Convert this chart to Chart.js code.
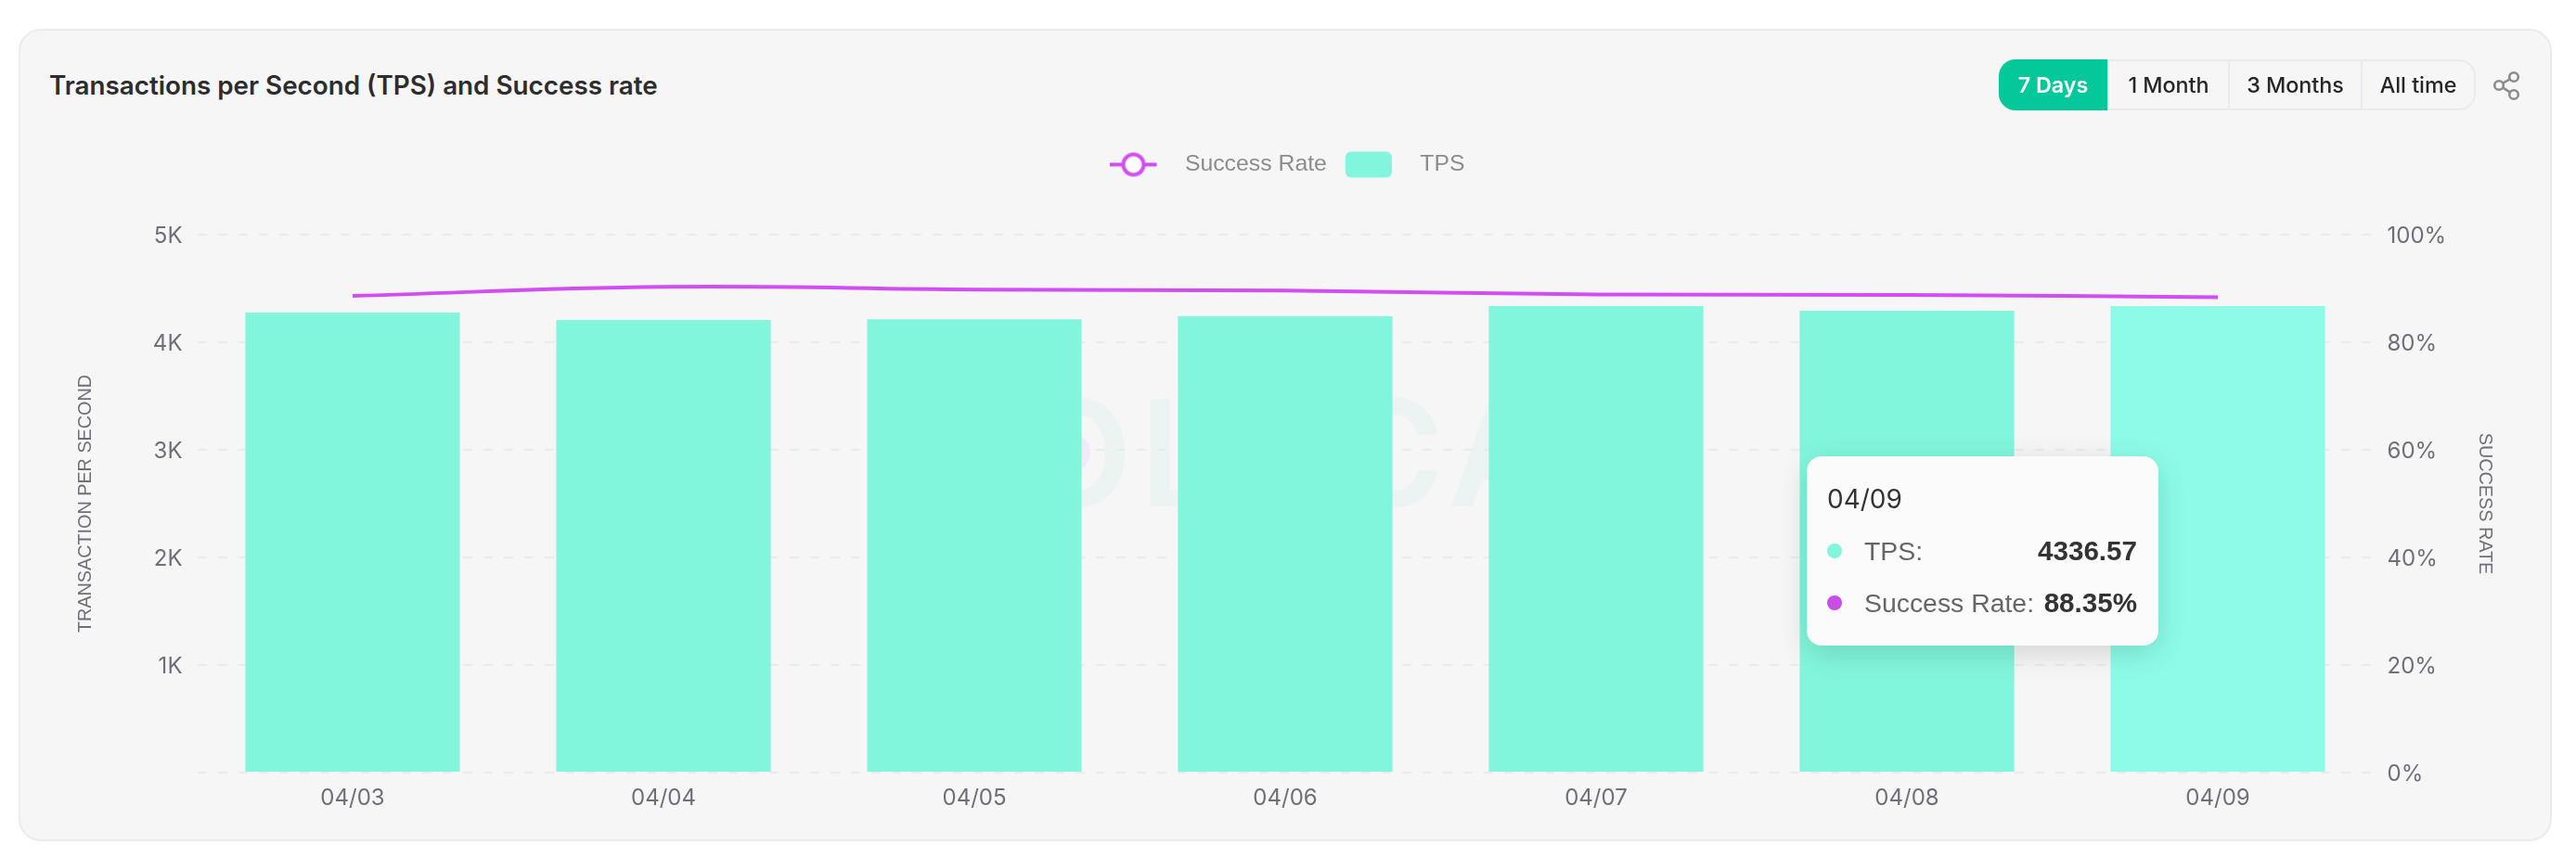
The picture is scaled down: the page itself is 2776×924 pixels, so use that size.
<!DOCTYPE html>
<html>
<head>
<meta charset="utf-8">
<title>Transactions per Second (TPS) and Success rate</title>
<script src="https://cdn.jsdelivr.net/npm/chart.js@4/dist/chart.umd.js"></script>
<style>
  html, body { margin: 0; padding: 0; background: #fff; }
  body { width: 2776px; height: 924px; position: relative; overflow: hidden; font-family: Inter, sans-serif; }
  .card { position: absolute; left: 20px; top: 31px; width: 2726px; height: 872px; background: #f6f6f6; border: 2px solid #ebebef; border-radius: 24px; }
  .title { position: absolute; left: 53px; top: 72px; line-height: 40px; font-size: 27.8px; font-weight: 600; color: #2d2d2d; white-space: nowrap; }
  .watermark { position: absolute; left: 985px; top: 393px; line-height: 190px; font-size: 160px; font-weight: 600; color: #ebf4f2; white-space: nowrap; letter-spacing: 8px; }
  .dot { position: absolute; left: 1135px; top: 468px; width: 40px; height: 40px; border-radius: 50%; background: #f3e8f5; }
  canvas { position: absolute; left: 0; top: 0; }
  .range { position: absolute; left: 2154px; top: 64px; height: 55px; width: 514px; box-sizing: border-box; display: flex; border: 2px solid #ebebef; border-radius: 18px; }
  .range div { display: flex; align-items: center; justify-content: center; box-sizing: border-box; font-size: 23.3px; font-weight: 500; color: #262626; border-left: 2px solid #ebebef; }
  .range div:first-child { border-left: 0; background: #04c79a; color: #fff; font-weight: 600; margin: -2px 0 -2px -2px; border-radius: 18px 0 0 18px; }
  .share { position: absolute; left: 2685px; top: 74px; }
  #tip { position: absolute; left: 1947px; top: 492px; width: 379px; height: 204px; box-sizing: border-box; background: #fbfbfb; border-radius: 16px; box-shadow: 0 8px 32px rgba(0,0,0,.14); color: #333; }
  #tip .head { position: absolute; left: 22px; top: 28px; line-height: 36px; font-size: 28px; font-family: Inter, sans-serif; }
  #tip .row { position: absolute; left: 22px; right: 23px; height: 36px; line-height: 36px; font-family: "Liberation Sans", sans-serif; font-size: 28.4px; }
  #tip .row i { position: absolute; left: 0; top: 10px; width: 16px; height: 16px; border-radius: 50%; }
  #tip .row span { position: absolute; left: 40px; color: #666; }
  #tip .row b { position: absolute; right: 0; color: #333; font-size: 29.6px; }
</style>
</head>
<body>
<div class="card"></div>
<div class="title">Transactions per Second (TPS) and Success rate</div>
<div class="watermark">SOLSCAN</div>
<div class="dot"></div>
<canvas id="tpsChart" width="2776" height="924"></canvas>
<div class="range">
  <div style="width:117px">7 Days</div>
  <div style="width:130px">1 Month</div>
  <div style="width:143px">3 Months</div>
  <div style="width:122px">All time</div>
</div>
<svg class="share" width="34" height="36" viewBox="0 0 34 36" fill="none" stroke="#8c8c8c" stroke-width="2.6">
  <circle cx="24" cy="9" r="4.8"/><circle cx="8" cy="18" r="4.8"/><circle cx="24" cy="28" r="4.8"/>
  <path d="M12.2 15.6 19.8 11.4M12.2 20.6 19.8 25.4"/>
</svg>
<div id="tip"></div>
<script>
// values
const dates = ['04/03', '04/04', '04/05', '04/06', '04/07', '04/08', '04/09'];
const tpsValues = [4276, 4207, 4213, 4241, 4336, 4293, 4336.57];
const successRates = [88.6, 90.3, 89.8, 89.6, 88.9, 88.8, 88.35];
const tpsTickLabels = ['', '1K', '2K', '3K', '4K', '5K'];
const rateTickLabels = ['0%', '20%', '40%', '60%', '80%', '100%'];

const BAR_COLOR = '#82f6dc';
const BAR_HOVER = '#8dfbe8';
const LINE_COLOR = '#d24df2';
const TICK_COLOR = '#6f6f7a';

// legend icons, drawn wider than the mark so the text sits where it should
function lineIcon() {
    const c = document.createElement('canvas');
    c.width = 68; c.height = 32;
    const g = c.getContext('2d');
    g.strokeStyle = LINE_COLOR;
    g.lineWidth = 4;
    g.beginPath(); g.moveTo(0, 16); g.lineTo(50, 16); g.stroke();
    g.fillStyle = '#fff';
    g.beginPath(); g.arc(25, 16, 11, 0, Math.PI * 2); g.fill(); g.stroke();
    return c;
}
function rectIcon() {
    const c = document.createElement('canvas');
    c.width = 68; c.height = 32;
    const g = c.getContext('2d');
    g.fillStyle = BAR_COLOR;
    g.beginPath(); g.roundRect(0, 2, 50, 28, 6); g.fill();
    return c;
}

// keeps the gap under the legend, the plot starts well below it
const legendGap = {
    id: 'legendGap',
    beforeInit(chart) {
        const fit = chart.legend.fit;
        chart.legend.fit = function () {
            fit.call(this);
            this.height = 108;
        };
    }
};

function renderTip(ctx) {
    const tip = document.getElementById('tip');
    const points = ctx.tooltip.dataPoints;
    if (!points || !points.length) return;
    const tps = points.find(p => p.dataset.label === 'TPS');
    const rate = points.find(p => p.dataset.label === 'Success Rate');
    tip.innerHTML =
        '<div class="head">' + tps.label + '</div>' +
        '<div class="row" style="top:84px"><i style="background:' + BAR_COLOR + '"></i><span>TPS:</span><b>' + tps.raw + '</b></div>' +
        '<div class="row" style="top:140px"><i style="background:#c94de6"></i><span>Success Rate:</span><b>' + rate.raw + '%</b></div>';
}

const chart = new Chart(document.getElementById('tpsChart'), {
    type: 'bar',
    data: {
        labels: dates,
        datasets: [
            {
                type: 'line',
                label: 'Success Rate',
                data: successRates,
                yAxisID: 'rate',
                borderColor: LINE_COLOR,
                backgroundColor: LINE_COLOR,
                borderWidth: 4,
                tension: 0.4,
                pointRadius: 0,
                pointHoverRadius: 0,
                order: 0
            },
            {
                label: 'TPS',
                data: tpsValues,
                yAxisID: 'tps',
                backgroundColor: BAR_COLOR,
                hoverBackgroundColor: BAR_HOVER,
                barPercentage: 0.69,
                categoryPercentage: 1,
                order: 1
            }
        ]
    },
    options: {
        responsive: false,
        devicePixelRatio: 1,
        animation: false,
        events: [],
        layout: { padding: { left: 81, right: 82, top: 145, bottom: 31 } },
        plugins: {
            legend: {
                position: 'top',
                labels: {
                    usePointStyle: true,
                    pointStyleWidth: 68,
                    padding: 20,
                    color: '#8c8c8c',
                    font: { family: '"Liberation Sans", sans-serif', size: 24.8 },
                    generateLabels: () => [
                        { text: 'Success Rate', pointStyle: lineIcon(), datasetIndex: 0, fontColor: '#8c8c8c' },
                        { text: 'TPS', pointStyle: rectIcon(), datasetIndex: 1, fontColor: '#8c8c8c' }
                    ]
                }
            },
            tooltip: { enabled: false, external: renderTip }
        },
        scales: {
            x: {
                grid: { display: false, drawTicks: false },
                border: { display: false },
                afterFit: s => { s.height = 60; },
                ticks: {
                    color: TICK_COLOR,
                    padding: 13,
                    maxRotation: 0,
                    font: { family: 'Inter, sans-serif', size: 24 }
                }
            },
            tps: {
                position: 'left',
                min: 0,
                max: 5000,
                afterFit: s => { s.width = 131.5; },
                border: { display: false, dash: [10, 12] },
                grid: { color: '#ebebeb', lineWidth: 2, drawTicks: false },
                title: {
                    display: true,
                    text: 'TRANSACTION PER SECOND',
                    color: TICK_COLOR,
                    padding: 0,
                    font: { family: '"Liberation Sans", sans-serif', size: 19.8, weight: 'normal' }
                },
                ticks: {
                    stepSize: 1000,
                    color: TICK_COLOR,
                    padding: 16,
                    labelOffset: 2,
                    font: { family: 'Inter, sans-serif', size: 24 },
                    callback: (v, i) => tpsTickLabels[i]
                }
            },
            rate: {
                position: 'right',
                min: 0,
                max: 100,
                afterFit: s => { s.width = 136.5; },
                border: { display: false },
                grid: { display: false, drawTicks: false },
                title: {
                    display: true,
                    text: 'SUCCESS RATE',
                    color: TICK_COLOR,
                    padding: { top: 5, bottom: 0 },
                    font: { family: '"Liberation Sans", sans-serif', size: 19.8, weight: 'normal' }
                },
                ticks: {
                    stepSize: 20,
                    color: TICK_COLOR,
                    padding: 15,
                    labelOffset: 2,
                    font: { family: 'Inter, sans-serif', size: 24 },
                    callback: (v, i) => rateTickLabels[i]
                }
            }
        }
    },
    plugins: [legendGap]
});

// the reference was captured while hovering the last day
const hovered = [{ datasetIndex: 1, index: 6 }, { datasetIndex: 0, index: 6 }];
chart.setActiveElements([hovered[0]]);
chart.tooltip.setActiveElements(hovered, { x: 2390, y: 500 });
chart.render();
</script>
</body>
</html>
